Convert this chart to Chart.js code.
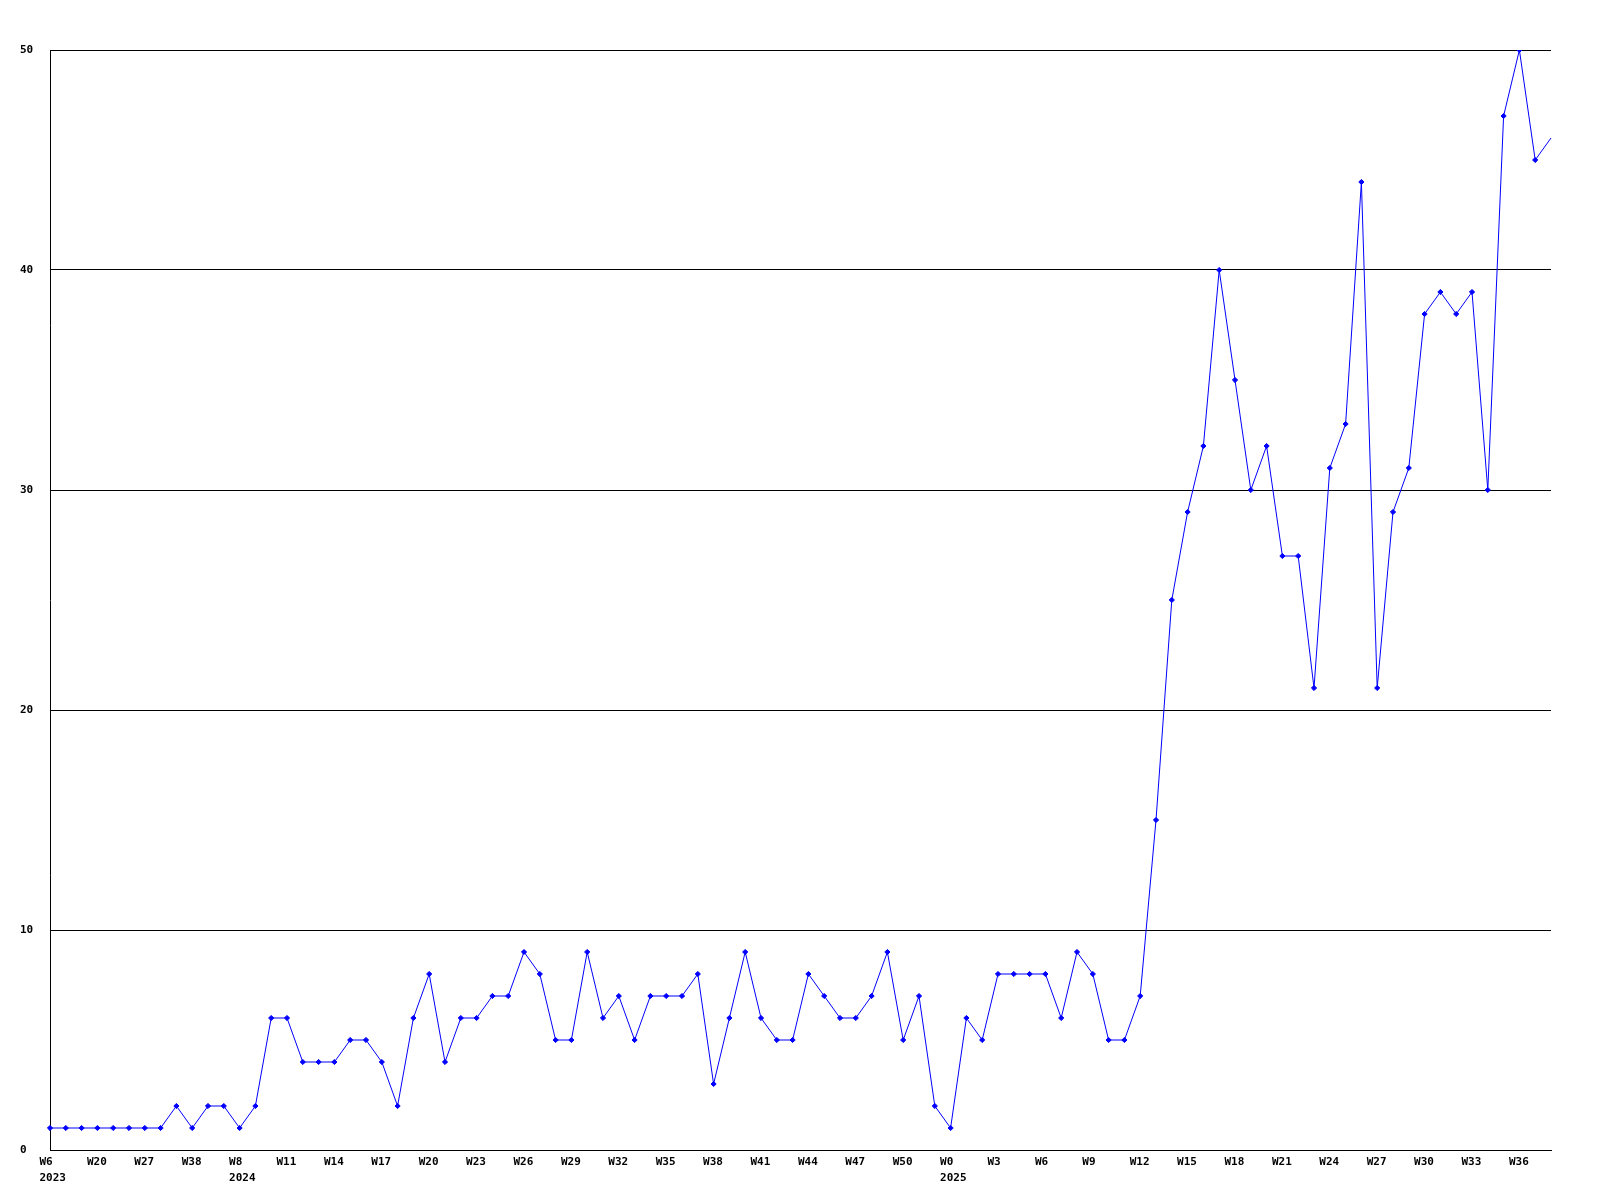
<!DOCTYPE html>
<html>
<head>
<meta charset="utf-8">
<script src="https://cdn.jsdelivr.net/npm/chart.js@4/dist/chart.umd.min.js"></script>
<style>
  html, body { margin: 0; padding: 0; background: #ffffff; }
  #wrap { width: 1600px; height: 1200px; }
</style>
</head>
<body>
<div id="wrap"><canvas id="c" width="1600" height="1200"></canvas></div>
<script>
// Tick labels shown every third weekly point (multi-line where the year starts)
const tickLabels = [
  ['W6', '2023'], 'W20', 'W27', 'W38', ['W8', '2024'], 'W11', 'W14', 'W17', 'W20', 'W23',
  'W26', 'W29', 'W32', 'W35', 'W38', 'W41', 'W44', 'W47', 'W50', ['W0', '2025'],
  'W3', 'W6', 'W9', 'W12', 'W15', 'W18', 'W21', 'W24', 'W27', 'W30', 'W33', 'W36'
];
const tickEvery = 3;

// Weekly counts
const values = [
  1, 1, 1, 1, 1, 1, 1, 1, 2, 1,
  2, 2, 1, 2, 6, 6, 4, 4, 4, 5,
  5, 4, 2, 6, 8, 4, 6, 6, 7, 7,
  9, 8, 5, 5, 9, 6, 7, 5, 7, 7,
  7, 8, 3, 6, 9, 6, 5, 5, 8, 7,
  6, 6, 7, 9, 5, 7, 2, 1, 6, 5,
  8, 8, 8, 8, 6, 9, 8, 5, 5, 7,
  15, 25, 29, 32, 40, 35, 30, 32, 27, 27,
  21, 31, 33, 44, 21, 29, 31, 38, 39, 38,
  39, 30, 47, 50, 45, 46
];

const yMin = 0, yMax = 50, yStep = 10;

const categories = values.map((v, i) => (i % tickEvery === 0 && tickLabels[i / tickEvery] !== undefined) ? tickLabels[i / tickEvery] : '');

const FONT = { family: '"DejaVu Sans Mono", monospace', size: 11, weight: 'bold', lineHeight: 16 / 11 };

new Chart(document.getElementById('c'), {
  type: 'line',
  data: {
    labels: categories,
    datasets: [{
      data: values,
      borderColor: '#0000ff',
      backgroundColor: '#0000ff',
      borderWidth: 1,
      tension: 0,
      fill: false,
      pointStyle: 'rectRot',
      pointRadius: (ctx) => ctx.dataIndex === values.length - 1 ? 0 : 2.6,
      pointBorderWidth: 1,
      pointBorderColor: '#0000ff',
      pointBackgroundColor: '#0000ff',
      pointHoverRadius: 2.6
    }]
  },
  options: {
    responsive: false,
    animation: false,
    devicePixelRatio: 1,
    layout: { padding: { left: 20, top: 50, right: 49, bottom: 0 } },
    plugins: { legend: { display: false }, tooltip: { enabled: false } },
    scales: {
      x: {
        type: 'category',
        offset: false,
        grid: { display: false, drawTicks: false },
        border: { display: true, color: '#000000', width: 1 },
        ticks: {
          autoSkip: false,
          maxRotation: 0,
          minRotation: 0,
          align: 'start',
          labelOffset: -10.5,
          padding: 4,
          color: '#000000',
          font: FONT
        },
        afterFit: (s) => { s.height = 50; }
      },
      y: {
        min: yMin,
        max: yMax,
        grid: { display: true, color: '#000000', lineWidth: 1, drawTicks: false },
        border: { display: true, color: '#000000', width: 1 },
        ticks: {
          stepSize: yStep,
          crossAlign: 'far',
          padding: 0,
          color: '#000000',
          font: FONT
        },
        afterFit: (s) => { s.width = 30; }
      }
    }
  }
});
</script>
</body>
</html>
